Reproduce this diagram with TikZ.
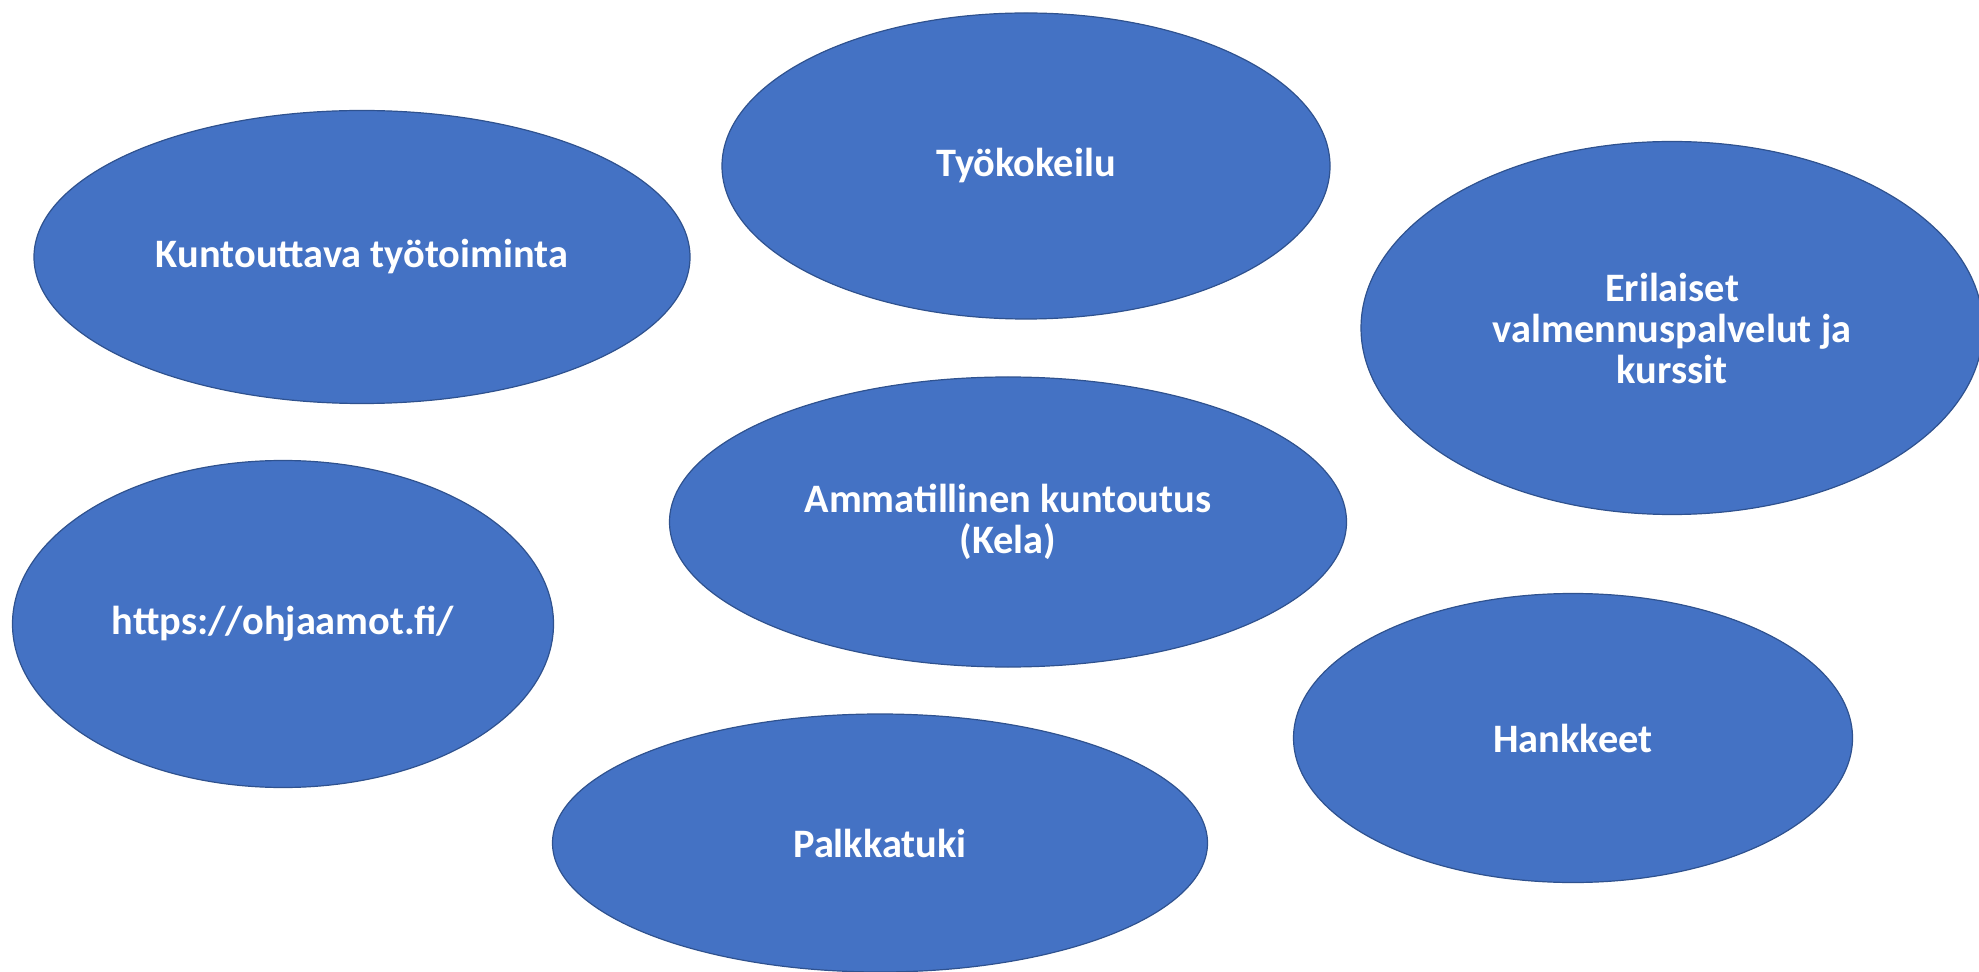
\documentclass[tikz,border=0pt]{standalone}
\usepackage{fontspec}
\setmainfont{Carlito}
\usetikzlibrary{shapes.geometric}
\definecolor{ovalblue}{HTML}{4472C4}
\definecolor{ovaledge}{HTML}{2F528F}
\tikzset{
    oval/.style={ellipse,draw=ovaledge,fill=ovalblue,line width=0.6pt,inner sep=0pt,
        text=white,align=center,font=\fontsize{20.2}{20.5}\selectfont\bfseries},
    }
\begin{document}
\begin{tikzpicture}[x=0.5pt,y=-0.5pt]
	\useasboundingbox (0,0) rectangle (1979,972);
	
	\node[oval,minimum width=328pt,minimum height=146.5pt] (kta) at (362,257) {Kuntouttava työtoiminta};
	\node[oval,minimum width=304pt,minimum height=153pt] (tyo) at (1026,166) {Työkokeilu};
	\node[oval,minimum width=311pt,minimum height=186.5pt] (val) at (1672,328) {Erilaiset\\valmennuspalvelut ja\\kurssit};
	
	\node[oval,minimum width=338.5pt,minimum height=145pt] (amm) at (1008,522) {Ammatillinen kuntoutus\\(Kela)};
	\node[oval,minimum width=270.5pt,minimum height=163.5pt] (ohj) at (283,624) {https://ohjaamot.fi/};
	
	\node[oval,minimum width=279.5pt,minimum height=144.5pt] (han) at (1573,738) {Hankkeet};
	\node[oval,minimum width=327.5pt,minimum height=129pt] (pal) at (880,843) {Palkkatuki};
\end{tikzpicture}
\end{document}
